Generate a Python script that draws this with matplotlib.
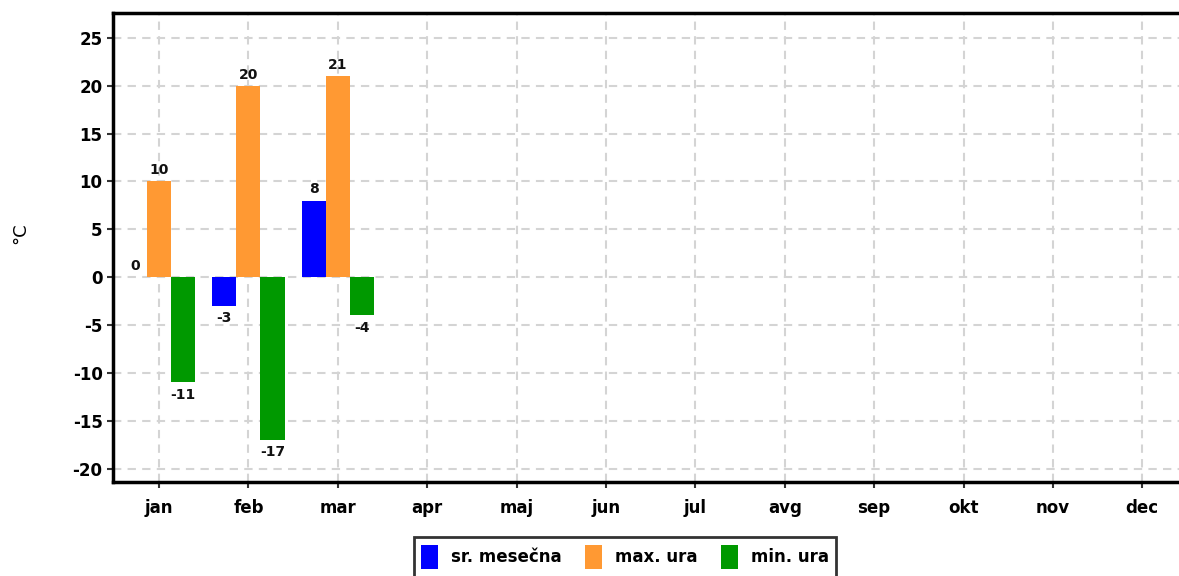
import matplotlib
matplotlib.use("Agg")
import matplotlib.pyplot as plt
import numpy as np

plt.rcParams["axes.unicode_minus"] = False

months = ["jan", "feb", "mar", "apr", "maj", "jun", "jul", "avg", "sep", "okt", "nov", "dec"]
sr_mesecna = [0, -3, 8]
max_ura = [10, 20, 21]
min_ura = [-11, -17, -4]
series_names = ["sr. mesečna", "max. ura", "min. ura"]
colors = ["#0000FF", "#FF9933", "#009900"]

W, H = 1179, 576
fig = plt.figure(figsize=(W / 100, H / 100), dpi=100)
left, right = 113, 1187
top, bottom = 13, 482
ax = fig.add_axes([left / W, 1 - bottom / H, (right - left) / W, (bottom - top) / H])

x = np.arange(len(months))
bw = 0.27
series = [sr_mesecna, max_ura, min_ura]
offsets = [-bw, 0, bw]
for vals, off, col, name in zip(series, offsets, colors, series_names):
    xs = np.arange(len(vals)) + off
    ax.bar(xs, vals, width=bw, color=col, label=name, zorder=3)
    for xi, v in zip(xs, vals):
        if v >= 0:
            ax.annotate(str(v), (xi, v), xytext=(0, 3), textcoords="offset points",
                        ha="center", va="bottom", fontsize=10, fontweight="bold", color="#111111")
        else:
            ax.annotate(str(v), (xi, v), xytext=(0, -4), textcoords="offset points",
                        ha="center", va="top", fontsize=10, fontweight="bold", color="#111111")

ax.set_xlim(-0.515, 11.5)
ax.set_ylim(-21.4, 27.6)
ax.set_xticks(x)
ax.set_xticklabels(months)
ax.set_yticks(np.arange(-20, 26, 5))
ax.grid(True, color="#d4d4d4", linestyle=(0, (4, 3)), linewidth=1.5, zorder=0)
ax.set_axisbelow(True)

for s in ["left", "top", "bottom"]:
    ax.spines[s].set_linewidth(2.5)
    ax.spines[s].set_color("black")
ax.spines["right"].set_visible(False)

ax.tick_params(axis="both", labelsize=12, width=1.5, length=4, color="#333333")
ax.tick_params(axis="x", pad=8)
for lab in ax.get_xticklabels() + ax.get_yticklabels():
    lab.set_fontweight("bold")

fig.text(20 / W, 1 - 233 / H, "°C", rotation=90, ha="center", va="center", fontsize=13)

leg = fig.legend(loc="center", bbox_to_anchor=(625 / W, 1 - 557 / H), ncol=3,
                 frameon=True, fancybox=False, edgecolor="black", fontsize=12,
                 handlelength=1.0, handleheight=1.9, handletextpad=0.8, columnspacing=1.4,
                 borderpad=0.45)
leg.get_frame().set_linewidth(2)
for t in leg.get_texts():
    t.set_fontweight("bold")

fig.savefig("out.png", dpi=100)
